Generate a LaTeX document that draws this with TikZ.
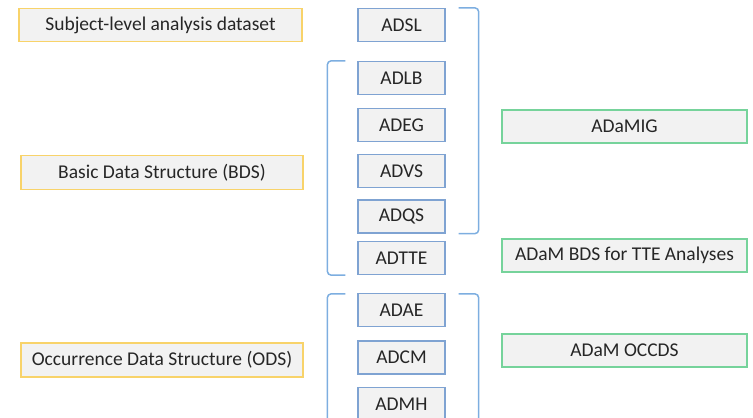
\documentclass[tikz,border=0pt]{standalone}
\usepackage{fontspec}
\setmainfont{Carlito}
\definecolor{boxfill}{HTML}{F2F2F2}
\definecolor{yel}{HTML}{F8D36A}
\definecolor{blu}{HTML}{7FA3D2}
\definecolor{grn}{HTML}{76D39B}
\definecolor{brk}{HTML}{7DAEE0}
\definecolor{txt}{HTML}{262626}
\tikzset{
  base/.style={draw, fill=boxfill, line width=1.4pt, text=txt, font=\fontsize{19.5}{22}\selectfont, inner sep=0pt, anchor=center},
  ybox/.style={base, draw=yel, minimum height=33pt},
  bbox/.style={base, draw=blu, minimum width=87pt, minimum height=33pt},
  gbox/.style={base, draw=grn, minimum width=245pt, minimum height=33pt},
  brack/.style={draw=brk, line width=1.5pt, rounded corners=4pt}
}
\begin{document}
\begin{tikzpicture}[x=1pt,y=-1pt]
\useasboundingbox (0,0) rectangle (753,418);
\clip (0,0) rectangle (753,418);
% left column
\node[ybox, minimum width=283pt] (sl) at (160.5,25) {Subject-level analysis dataset};
\node[ybox, minimum width=282pt, minimum height=34pt] (bds) at (162,172.5) {Basic Data Structure (BDS)};
\node[ybox, minimum width=282pt, minimum height=34pt] (ods) at (162,360) {Occurrence Data Structure (ODS)};
% middle column
\node[bbox] (adsl) at (401.5,25) {ADSL};
\node[bbox] (adlb) at (401.5,78) {ADLB};
\node[bbox] (adeg) at (401.5,125) {ADEG};
\node[bbox] (advs) at (401.5,171) {ADVS};
\node[bbox] (adqs) at (401.5,216.5) {ADQS};
\node[bbox] (adtte) at (401.5,258) {ADTTE};
\node[bbox] (adae) at (401.5,310) {ADAE};
\node[bbox] (adcm) at (401.5,357.5) {ADCM};
\node[bbox] (admh) at (401.5,404) {ADMH};
% right column
\node[gbox] (ig) at (624.5,126.5) {ADaMIG};
\node[gbox] (tte) at (624.5,255.5) {ADaM BDS for TTE Analyses};
\node[gbox] (occ) at (624.5,350.5) {ADaM OCCDS};
% brackets
\draw[brack] ([xshift=13pt]adsl.north east) -- ++(20,0) |- ([xshift=13pt]adqs.south east);
\draw[brack] ([xshift=-12pt]adlb.north west) -- ++(-18,0) |- ([xshift=-12pt]adtte.south west);
\draw[brack] ([xshift=-12pt,yshift=-1pt]adae.north west) -- ++(-18,0) |- ([xshift=-12pt,yshift=-25pt]admh.south west);
\draw[brack] ([xshift=13pt,yshift=-1pt]adae.north east) -- ++(20,0) |- ([xshift=13pt,yshift=-25pt]admh.south east);
\end{tikzpicture}
\end{document}
